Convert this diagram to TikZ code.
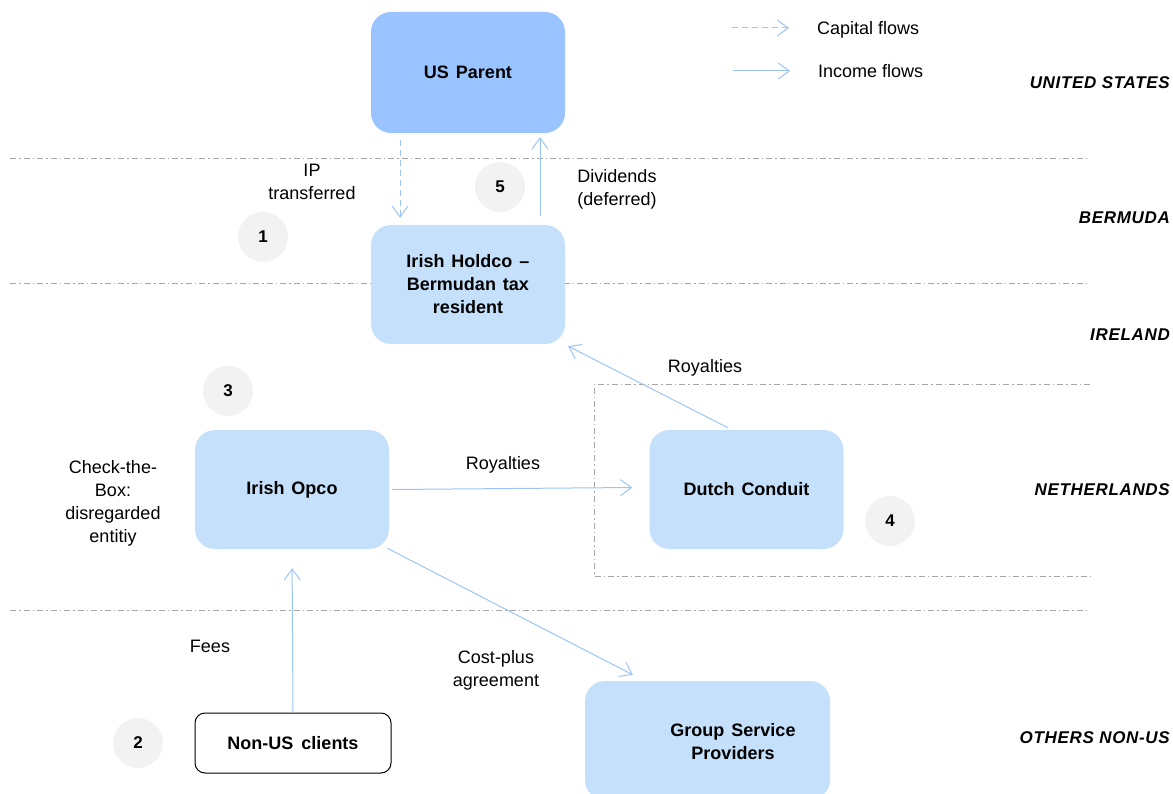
\documentclass[tikz,border=0pt]{standalone}
\usepackage{fontspec}
\setmainfont{Liberation Sans}
\newfontfamily\regionfont[LetterSpace=4]{Liberation Sans}
\newcommand\widesp{\spaceskip=7pt plus 1pt minus 0pt\relax}
\newcommand\widersp{\spaceskip=8pt plus 1pt minus 0pt\relax}
\usetikzlibrary{arrows.meta,calc}
\definecolor{darkbox}{HTML}{99C4FF}
\definecolor{lightbox}{HTML}{C5E0FA}
\definecolor{flow}{HTML}{9CC4F7}
\definecolor{circ}{HTML}{F2F2F2}
\definecolor{sepline}{HTML}{A6A6A6}
\tikzset{
  entity/.style={rectangle, rounded corners=20pt, fill=lightbox, minimum width=194pt, minimum height=119pt, inner sep=0pt, align=center, font=\fontsize{18}{23}\selectfont\bfseries\widesp},
  parentbox/.style={entity, fill=darkbox, minimum height=121pt},
  clientbox/.style={rectangle, rounded corners=10pt, draw=black, line width=1pt, fill=white, minimum width=196pt, minimum height=60pt, align=center, font=\fontsize{18}{23}\selectfont\bfseries\widersp},
  stepnum/.style={circle, fill=circ, minimum size=50pt, inner sep=0pt, font=\fontsize{17}{20}\selectfont\bfseries},
  lbl/.style={align=center, font=\fontsize{18}{23}\selectfont, inner sep=0pt},
  region/.style={anchor=east, inner sep=0pt, font=\regionfont\fontsize{17}{20}\selectfont\bfseries\itshape},
  income/.style={draw=flow, line width=1pt, -{Straight Barb[length=11pt,width=16pt]}},
  capital/.style={income, dash pattern=on 6pt off 4pt},
  sep/.style={draw=sepline, line width=0.8pt, dash pattern=on 6pt off 3pt on 1.5pt off 3pt},
}
\begin{document}
\begin{tikzpicture}[x=1pt,y=-1pt]
\useasboundingbox (0,0) rectangle (1173,794);
\clip (0,0) rectangle (1173,794);
% separators
\draw[sep] (10,158) -- (1090,158);
\draw[sep] (10,283) -- (1090,283);
\draw[sep] (10,610) -- (1090,610);
\draw[sep] (1090,384) -- (594,384) -- (594,576) -- (1090,576);
% boxes
\node[parentbox] (usp) at (468,72.5) {US Parent};
\node[entity] (holdco) at (468,284.5) {Irish Holdco –\\Bermudan tax\\resident};
\node[entity] (opco) at (292,489.5) {Irish Opco};
\node[entity] (dutch) at (746.5,489.5) {Dutch Conduit};
\node[entity, minimum width=245pt] (gsp) at (707.5,740.5) {};
\node[lbl, font=\fontsize{18}{23}\selectfont\bfseries\widesp] (gsptext) at (733,742) {Group Service\\Providers};
\node[clientbox] (nonus) at (293,743) {Non-US clients};
% step circles
\node[stepnum] (s1) at (263,237) {1};
\node[stepnum] (s2) at (138,743) {2};
\node[stepnum] (s3) at (228,391) {3};
\node[stepnum] (s4) at (890,521) {4};
\node[stepnum] (s5) at (500,187) {5};
% flows
\draw[capital, shorten <=7pt, shorten >=7pt] ([xshift=-68pt]usp.south) -- ([xshift=-68pt]holdco.north);
\draw[income, shorten <=9pt, shorten >=4pt] ([xshift=72pt]holdco.north) -- ([xshift=72pt]usp.south);
\draw[income] ([xshift=-18.5pt,yshift=2pt]dutch.north) -- ([shift={(3pt,-2pt)}]holdco.south east);
\draw[income] ([xshift=3pt]opco.east) -- ([xshift=-17pt,yshift=2pt]dutch.west);
\draw[income, shorten >=19pt] (nonus.north) -- (opco.south);
\draw[income] ([xshift=-2pt,yshift=1pt]opco.south east) -- ([shift={(48pt,6pt)}]gsp.north west);
% flow labels
\node[lbl] (iplbl) at (312,182) {IP\\transferred};
\node[lbl] (divlbl) at (617,189) {Dividends\\(deferred)};
\node[lbl] (roy1) at (705,368) {Royalties};
\node[lbl] (roy2) at (503,465) {Royalties};
\node[lbl] (ctb) at (113,503) {Check-the-\\Box:\\disregarded\\entitiy};
\node[lbl] (fees) at (210,646) {Fees};
\node[lbl] (cost) at (496,670) {Cost-plus\\agreement};
% legend
\coordinate (lc1) at (732,28);
\coordinate (lc2) at (789,28);
\coordinate (li1) at (733,71);
\coordinate (li2) at (790,71);
\draw[capital] (lc1) -- (lc2);
\draw[income] (li1) -- (li2);
\node[lbl, anchor=west] (lcap) at (817,30) {Capital flows};
\node[lbl, anchor=west] (linc) at (818,71) {Income flows};
% regions
\node[region] (rus) at (1170,83) {UNITED STATES};
\node[region] (rbm) at (1170,218) {BERMUDA};
\node[region] (rie) at (1170,335) {IRELAND};
\node[region] (rnl) at (1170,490) {NETHERLANDS};
\node[region] (rot) at (1170,738) {OTHERS NON-US};
\end{tikzpicture}
\end{document}
